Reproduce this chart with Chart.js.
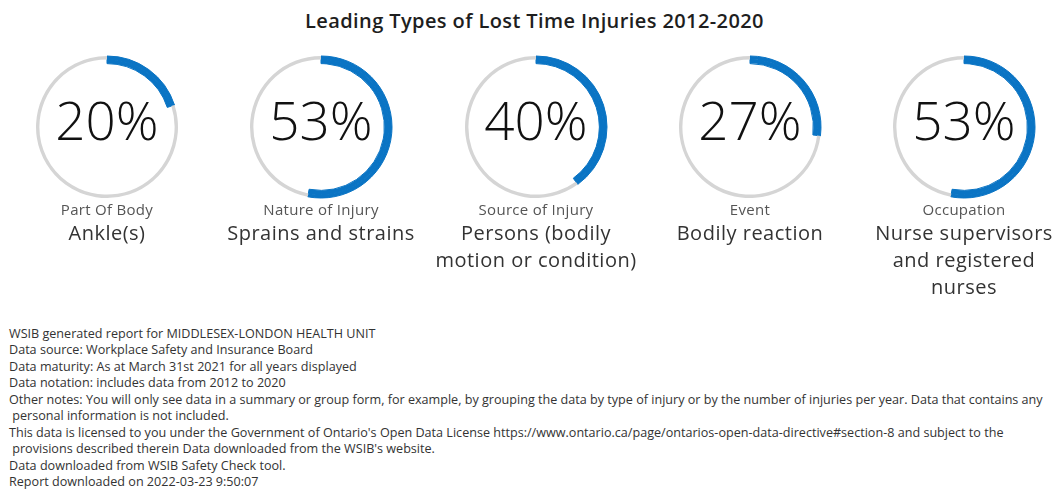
<!DOCTYPE html>
<html lang="en">
<head>
  <meta charset="UTF-8">
  <title>Leading Types of Lost Time Injuries 2012-2020</title>
  <script src="https://cdn.jsdelivr.net/npm/chart.js"></script>
  <style>
    body { margin: 0; background: #fff; font-family: "Open Sans", sans-serif; width: 1057px; height: 489px; overflow: hidden; position: relative; }
    h2 { position: absolute; left: 6px; width: 1057px; top: 7px; margin: 0; text-align: center; font-size: 20px; font-weight: 600; letter-spacing: 0.4px; color: #1e1e1e; }
    .gauge { position: absolute; top: 52px; width: 150px; height: 150px; }
    .lbl { position: absolute; top: 200px; width: 214px; text-align: center; }
    .cat { font-size: 15px; letter-spacing: 0.3px; color: #555; line-height: 19px; }
    .lead { font-size: 20px; letter-spacing: 0.5px; color: #333; line-height: 27px; white-space: pre-line; }
    #notes { position: absolute; left: 9px; top: 326px; font-size: 12.6px; line-height: 16.45px; color: #333; white-space: pre; }
  </style>
</head>
<body>
  <h2>Leading Types of Lost Time Injuries 2012-2020</h2>
  <div id="gauges"></div>
  <div id="notes"></div>

  <script>
    const categories = ["Part Of Body", "Nature of Injury", "Source of Injury", "Event", "Occupation"];
    const leaders = ["Ankle(s)", "Sprains and strains", "Persons (bodily\nmotion or condition)", "Bodily reaction", "Nurse supervisors\nand registered\nnurses"];
    const percents = [20, 53, 40, 27, 53];

    const noteLines = [
      "WSIB generated report for MIDDLESEX-LONDON HEALTH UNIT",
      "Data source: Workplace Safety and Insurance Board",
      "Data maturity: As at March 31st 2021 for all years displayed",
      "Data notation: includes data from 2012 to 2020",
      "Other notes: You will only see data in a summary or group form, for example, by grouping the data by type of injury or by the number of injuries per year. Data that contains any",
      " personal information is not included.",
      "This data is licensed to you under the Government of Ontario's Open Data License https://www.ontario.ca/page/ontarios-open-data-directive#section-8 and subject to the",
      " provisions described therein Data downloaded from the WSIB's website.",
      "Data downloaded from WSIB Safety Check tool.",
      "Report downloaded on 2022-03-23 9:50:07"
    ];
    document.getElementById("notes").textContent = noteLines.join("\n");

    const blue = "#0A74C4";
    const grey = "#D5D5D5";
    const centers = [107, 321, 536, 750, 964];

    const centerText = {
      id: "centerText",
      afterDraw(chart) {
        const c = chart.ctx;
        const m = chart.getDatasetMeta(0).data[0];
        c.save();
        c.font = "300 53px 'Open Sans', sans-serif";
        c.fillStyle = "#111";
        c.textAlign = "center";
        c.textBaseline = "middle";
        c.fillText(chart.options.plugins.centerText.text, m.x, m.y - 2);
        c.restore();
      }
    };

    const wrap = document.getElementById("gauges");
    percents.forEach((p, i) => {
      const cv = document.createElement("canvas");
      cv.className = "gauge";
      cv.width = 150; cv.height = 150;
      cv.style.left = (centers[i] - 75) + "px";
      wrap.appendChild(cv);

      const lbl = document.createElement("div");
      lbl.className = "lbl";
      lbl.style.left = (centers[i] - 107) + "px";
      lbl.innerHTML = '<div class="cat"></div><div class="lead"></div>';
      lbl.querySelector(".cat").textContent = categories[i];
      lbl.querySelector(".lead").textContent = leaders[i];
      wrap.appendChild(lbl);

      new Chart(cv, {
        type: "doughnut",
        data: {
          labels: [categories[i], "Other"],
          datasets: [
            { data: [p, 100 - p], backgroundColor: [blue, grey], borderColor: [blue, grey], borderWidth: [1, 0], weight: 2 },
            { data: [p, 100 - p], backgroundColor: [blue, "rgba(0,0,0,0)"], borderColor: [blue, "rgba(0,0,0,0)"], borderWidth: [1, 0], weight: 2.5 }
          ]
        },
        options: {
          responsive: false,
          animation: false,
          radius: 71,
          cutout: 66.5,
          layout: { padding: 0 },
          plugins: {
            legend: { display: false },
            tooltip: { enabled: false },
            centerText: { text: p + "%" }
          }
        },
        plugins: [centerText]
      });
    });
  </script>
</body>
</html>
